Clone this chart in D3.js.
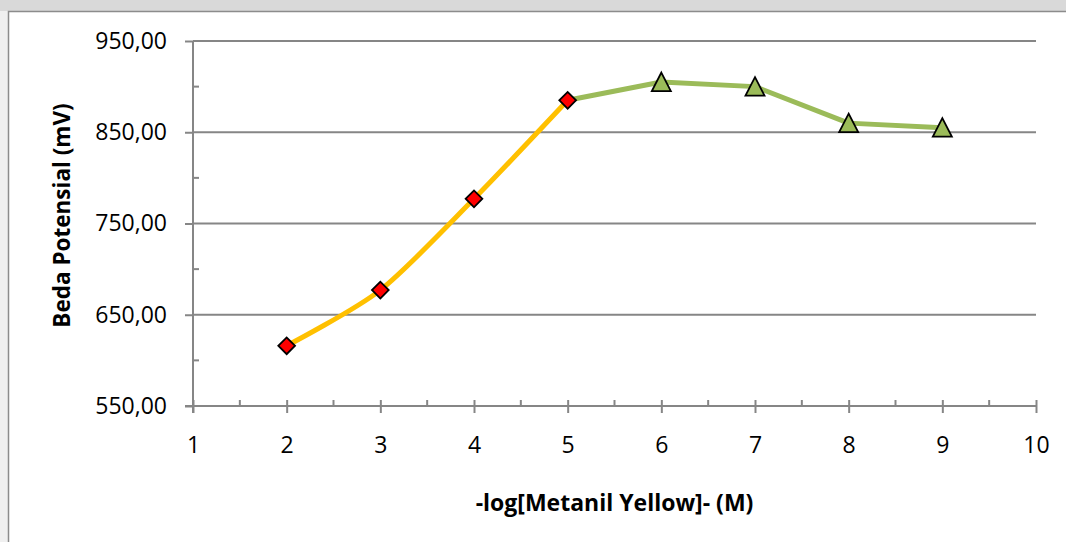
<!DOCTYPE html>
<html>
<head>
<meta charset="utf-8">
<script src="https://cdn.jsdelivr.net/npm/d3@7"></script>
<style>
  html, body { margin: 0; padding: 0; background: #fff; }
  svg { display: block; }
  text { font-family: "Open Sans", "Noto Sans", sans-serif; fill: #000; }
</style>
</head>
<body>
<svg id="chart" width="1066" height="542"></svg>
<script>
// Potential (mV) against -log concentration of Metanil Yellow
const risingX = [2, 3, 4, 5];
const risingY = [616, 677, 777, 885];
const plateauX = [5, 6, 7, 8, 9];
const plateauY = [885, 905, 900, 860, 855];

const yTicks = [550, 650, 750, 850, 950];
const yMinorTicks = [600, 700, 800, 900];
const xTicks = [1, 2, 3, 4, 5, 6, 7, 8, 9, 10];
const xMinorTicks = [1.5, 2.5, 3.5, 4.5, 5.5, 6.5, 7.5, 8.5, 9.5];

const xTitle = "-log[Metanil Yellow]- (M)";
const yTitle = "Beda Potensial (mV)";

const fmt = v => d3.format(".2f")(v).replace(".", ",");

const svg = d3.select("#chart");
const W = 1066, H = 542;
const plot = { left: 193, right: 1036, top: 41, bottom: 406 };

// page frame
svg.append("rect").attr("x", 0).attr("y", 0).attr("width", W).attr("height", H).attr("fill", "#f0f0f0");
svg.append("rect").attr("x", 0).attr("y", 0).attr("width", W).attr("height", 11).attr("fill", "#d9d9d9");
svg.append("rect").attr("x", 8.5).attr("y", 11.5).attr("width", W).attr("height", H)
  .attr("fill", "#fff").attr("stroke", "#8c8c8c").attr("stroke-width", 1.5);

const x = d3.scaleLinear().domain([1, 10]).range([plot.left, plot.right]);
const y = d3.scaleLinear().domain([550, 950]).range([plot.bottom, plot.top]);

const axisColor = "#868686";

// horizontal gridlines
svg.append("g").selectAll("line").data(yTicks.filter(v => v !== 550)).join("line")
  .attr("x1", plot.left).attr("x2", plot.right)
  .attr("y1", d => y(d)).attr("y2", d => y(d))
  .attr("stroke", axisColor).attr("stroke-width", 2);

// y axis
const yAxis = svg.append("g").attr("transform", `translate(${plot.left},0)`)
  .call(d3.axisLeft(y).tickValues(yTicks).tickSize(8).tickPadding(18).tickFormat(fmt));
yAxis.select(".domain").remove();
yAxis.selectAll(".tick line").attr("stroke", axisColor).attr("stroke-width", 2);
yAxis.selectAll(".tick text").attr("font-size", 23).attr("fill", "#000")
  .style("font-family", '"Open Sans", sans-serif');
yAxis.append("line").attr("x1", 0).attr("x2", 0).attr("y1", plot.top).attr("y2", plot.bottom + 7)
  .attr("stroke", axisColor).attr("stroke-width", 2);
yAxis.append("g").selectAll("line").data(yMinorTicks).join("line")
  .attr("x1", 0).attr("x2", 6).attr("y1", d => y(d)).attr("y2", d => y(d))
  .attr("stroke", axisColor).attr("stroke-width", 2);

// x axis
const xAxis = svg.append("g").attr("transform", `translate(0,${plot.bottom})`)
  .call(d3.axisBottom(x).tickValues(xTicks).tickSize(7).tickPadding(24).tickFormat(d3.format("d")));
xAxis.select(".domain").remove();
xAxis.selectAll(".tick line").attr("y1", -6).attr("stroke", axisColor).attr("stroke-width", 2);
xAxis.selectAll(".tick text").attr("font-size", 23).attr("fill", "#000")
  .style("font-family", '"Open Sans", sans-serif');
xAxis.append("line").attr("x1", plot.left - 8).attr("x2", plot.right).attr("y1", 0).attr("y2", 0)
  .attr("stroke", axisColor).attr("stroke-width", 2);
xAxis.append("g").selectAll("line").data(xMinorTicks).join("line")
  .attr("x1", d => x(d)).attr("x2", d => x(d)).attr("y1", -6).attr("y2", 0)
  .attr("stroke", axisColor).attr("stroke-width", 2);

// series lines
const rising = risingX.map((v, i) => [v, risingY[i]]);
const plateau = plateauX.map((v, i) => [v, plateauY[i]]);
const smooth = d3.line().x(d => x(d[0])).y(d => y(d[1])).curve(d3.curveCardinal.tension(0.2));
const straight = d3.line().x(d => x(d[0])).y(d => y(d[1]));

svg.append("path").datum(plateau).attr("d", straight)
  .attr("fill", "none").attr("stroke", "#9BBB59").attr("stroke-width", 5).attr("stroke-linejoin", "round");
svg.append("path").datum(rising).attr("d", smooth)
  .attr("fill", "none").attr("stroke", "#FFC000").attr("stroke-width", 5).attr("stroke-linejoin", "round");

// triangle markers
const triangleShape = {
  draw(ctx) {
    ctx.moveTo(0, -9.5);
    ctx.lineTo(9.5, 9);
    ctx.lineTo(-9.5, 9);
    ctx.closePath();
  }
};
svg.append("g").selectAll("path").data(plateau.slice(1)).join("path")
  .attr("transform", d => `translate(${x(d[0])},${y(d[1])})`)
  .attr("d", d3.symbol().type(triangleShape)).attr("fill", "#9BBB59")
  .attr("stroke", "#000").attr("stroke-width", 1.8).attr("stroke-linejoin", "miter");

// diamond markers
const dia = d3.symbol().type(d3.symbolSquare).size(140);
svg.append("g").selectAll("path").data(rising).join("path")
  .attr("transform", d => `translate(${x(d[0])},${y(d[1])}) rotate(45)`)
  .attr("d", dia).attr("fill", "#FF0000").attr("stroke", "#000").attr("stroke-width", 1.8);

// axis titles
svg.append("text").attr("x", (plot.left + plot.right) / 2).attr("y", 511)
  .attr("text-anchor", "middle").attr("font-size", 23).attr("font-weight", "bold").text(xTitle);
svg.append("text").attr("transform", `translate(70,${(plot.top + plot.bottom) / 2 - 8}) rotate(-90)`)
  .attr("text-anchor", "middle").attr("font-size", 22.5).attr("font-weight", "bold").text(yTitle);
</script>
</body>
</html>
